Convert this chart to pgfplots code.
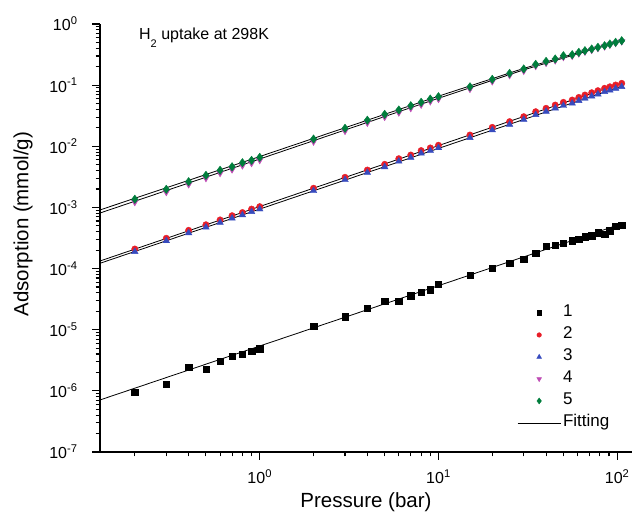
\documentclass[border=0pt]{standalone}
\usepackage{fontspec}
\setmainfont{Liberation Sans}
\usepackage{pgfplots}
\pgfplotsset{compat=1.18}
\definecolor{cred}{RGB}{232,30,40}
\definecolor{cblue}{RGB}{55,75,190}
\definecolor{cmag}{RGB}{190,75,180}
\definecolor{cgreen}{RGB}{0,125,60}

\pgfplotstableread{
x y1 y2 y3 y4 y5
0.2 9.5e-7 2.09e-4 1.89e-4 1.22e-3 1.36e-3
0.3 1.28e-6 3.13e-4 2.84e-4 1.78e-3 1.98e-3
0.4 2.45e-6 4.22e-4 3.83e-4 2.38e-3 2.64e-3
0.5 2.25e-6 5.21e-4 4.74e-4 3.01e-3 3.35e-3
0.6 3.08e-6 6.25e-4 5.67e-4 3.64e-3 4.05e-3
0.7 3.66e-6 7.33e-4 6.65e-4 4.17e-3 4.63e-3
0.8 3.95e-6 8.25e-4 7.50e-4 4.85e-3 5.39e-3
0.9 4.50e-6 9.40e-4 8.50e-4 5.31e-3 5.90e-3
1 4.90e-6 1.03e-3 9.38e-4 5.94e-3 6.60e-3
2 1.15e-5 2.06e-3 1.87e-3 1.19e-2 1.315e-2
3 1.63e-5 3.11e-3 2.83e-3 1.78e-2 1.97e-2
4 2.24e-5 4.09e-3 3.72e-3 2.42e-2 2.67e-2
5 2.90e-5 5.07e-3 4.60e-3 3.02e-2 3.33e-2
6 2.90e-5 6.27e-3 5.68e-3 3.56e-2 3.92e-2
7 3.60e-5 7.20e-3 6.53e-3 4.20e-2 4.61e-2
8 4.15e-5 8.50e-3 7.70e-3 4.78e-2 5.24e-2
9 4.50e-5 9.40e-3 8.50e-3 5.42e-2 5.93e-2
10 5.60e-5 1.04e-2 9.42e-3 5.93e-2 6.47e-2
15 7.85e-5 1.53e-2 1.38e-2 8.65e-2 9.40e-2
20 1.01e-4 2.04e-2 1.84e-2 1.15e-1 1.245e-1
25 1.22e-4 2.53e-2 2.27e-2 1.45e-1 1.56e-1
30 1.43e-4 3.05e-2 2.73e-2 1.71e-1 1.84e-1
35 1.78e-4 3.68e-2 3.28e-2 2.05e-1 2.19e-1
40 2.34e-4 4.18e-2 3.72e-2 2.30e-1 2.45e-1
45 2.43e-4 4.73e-2 4.20e-2 2.53e-1 2.68e-1
50 2.59e-4 5.23e-2 4.63e-2 2.87e-1 3.03e-1
56 2.86e-4 5.71e-2 5.05e-2 3.00e-1 3.15e-1
61 3.04e-4 6.30e-2 5.55e-2 3.29e-1 3.44e-1
66 3.32e-4 6.90e-2 6.07e-2 3.51e-1 3.66e-1
72 3.45e-4 7.52e-2 6.60e-2 3.75e-1 3.90e-1
78 3.86e-4 8.12e-2 7.12e-2 4.02e-1 4.16e-1
85 3.67e-4 8.88e-2 7.80e-2 4.28e-1 4.42e-1
91 4.17e-4 9.40e-2 8.25e-2 4.57e-1 4.71e-1
98 4.97e-4 1.005e-1 8.82e-2 4.87e-1 5.01e-1
106 5.15e-4 1.07e-1 9.40e-2 5.18e-1 5.33e-1
}\datatable

\begin{document}
\begin{tikzpicture}
\begin{axis}[
  xmode=log, ymode=log,
  scale only axis, width=532pt, height=428pt,
  xmin=0.1277, xmax=121, ymin=1e-7, ymax=1,
  axis lines*=left,
  axis line style={line width=1.4pt},
  tick align=outside,
  major tick length=8pt, minor tick length=4.5pt,
  every tick/.style={black, line width=1.1pt},
  xtick={1,10,100},
  xticklabels={10\textsuperscript{0},10\textsuperscript{1},10\textsuperscript{2}},
  minor xtick={0.2,0.3,0.4,0.5,0.6,0.7,0.8,0.9,2,3,4,5,6,7,8,9,20,30,40,50,60,70,80,90},
  ytick={1e-7,1e-6,1e-5,1e-4,1e-3,1e-2,1e-1,1},
  yticklabels={10\textsuperscript{-7},10\textsuperscript{-6},10\textsuperscript{-5},10\textsuperscript{-4},10\textsuperscript{-3},10\textsuperscript{-2},10\textsuperscript{-1},10\textsuperscript{0}},
  minor ytick={2e-7,3e-7,4e-7,5e-7,6e-7,7e-7,8e-7,9e-7,
    2e-6,3e-6,4e-6,5e-6,6e-6,7e-6,8e-6,9e-6,
    2e-5,3e-5,4e-5,5e-5,6e-5,7e-5,8e-5,9e-5,
    2e-4,3e-4,4e-4,5e-4,6e-4,7e-4,8e-4,9e-4,
    2e-3,3e-3,4e-3,5e-3,6e-3,7e-3,8e-3,9e-3,
    2e-2,3e-2,4e-2,5e-2,6e-2,7e-2,8e-2,9e-2,
    2e-1,3e-1,4e-1,5e-1,6e-1,7e-1,8e-1,9e-1},
  tick label style={font=\fontsize{16}{19}\selectfont},
  yticklabel style={xshift=-11pt},
  xticklabel style={yshift=-6pt},
  every axis x label/.style={at={(axis description cs:0.5,-0.1308)}, anchor=base, font=\fontsize{20.5}{24}\selectfont},
  every axis y label/.style={at={(axis description cs:-0.1348,0.532)}, rotate=90, anchor=base, font=\fontsize{20.5}{24}\selectfont},
  xlabel={Pressure (bar)},
  ylabel={Adsorption (mmol/g)},
  legend image code/.code={\draw[mark repeat=2,mark phase=2,#1] plot coordinates {(0pt,0pt) (21.5pt,0pt) (43pt,0pt)};},
  legend image post style={every mark/.append style={scale=0.72}},
  legend style={at={(0.784,0.344)}, anchor=north west, draw=none, fill=none,
    font=\fontsize{17}{20}\selectfont, row sep=6pt, column sep=2pt, inner sep=0pt,
    nodes={inner sep=0pt, text height=12pt, text depth=4pt},
    cells={anchor=west}},
  clip=false,
]
\addplot[only marks, mark=square*, mark size=3.2pt, black] table[x=x, y=y1] {\datatable};
\addlegendentry{1}
\addplot[only marks, mark=*, mark size=3.2pt, cred] table[x=x, y=y2] {\datatable};
\addlegendentry{2}
\addplot[only marks, mark=triangle*, mark size=3.8pt, cblue] table[x=x, y=y3] {\datatable};
\addlegendentry{3}
\addplot[only marks, mark=triangle*, mark options={rotate=180}, mark size=3.8pt, cmag] table[x=x, y=y4] {\datatable};
\addlegendentry{4}
\addplot[only marks, mark=diamond*, mark size=4.2pt, cgreen] table[x=x, y=y5] {\datatable};
\addlegendentry{5}
\addplot[black, line width=0.8pt] coordinates {(0.1277,7.1e-7) (106,5.4e-4)};
\addlegendentry{Fitting}
\addplot[black, line width=0.8pt, forget plot] coordinates {(0.1277,1.33e-4) (106,1.08e-1)};
\addplot[black, line width=0.8pt, forget plot] coordinates {(0.1277,1.22e-4) (106,9.6e-2)};
\addplot[black, line width=0.8pt, forget plot] coordinates {(0.1277,9.1e-4) (1,6.8e-3) (10,6.6e-2) (30,1.88e-1) (106,5.45e-1)};
\addplot[black, line width=0.8pt, forget plot] coordinates {(0.1277,8.1e-4) (1,6.2e-3) (10,6.1e-2) (30,1.78e-1) (106,5.3e-1)};
\node[anchor=base west, font=\fontsize{16}{19}\selectfont, inner sep=0pt] at (rel axis cs:0.0733,0.9643) {H\raisebox{-8.5pt}{\fontsize{11}{11}\selectfont 2} uptake at 298K};
\end{axis}
\pgfresetboundingbox
\path[use as bounding box] (-100pt,-69pt) rectangle (533pt,452pt);
\end{tikzpicture}
\end{document}
